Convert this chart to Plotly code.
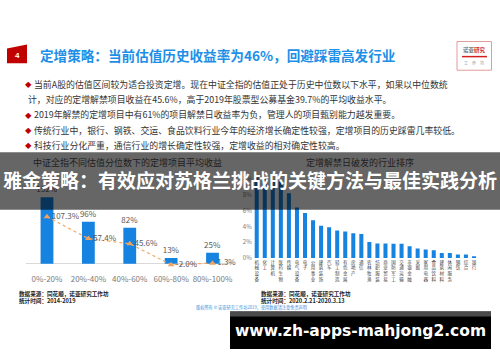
import plotly.graph_objects as go

# ---------------- data ----------------
val_cats = ["0%-20%", "20%-40%", "40%-60%", "60%-80%", "80%-100%"]
avg_return = [152, 96, 82, 13, 25]            # bars, %
unlock_return = [107.3, 57.4, 45.6, -2.0, 1.3]  # line, %

industries = ["机械设备", "化工", "计算机", "医药生物", "传媒", "电气设备", "电子",
              "公用事业", "建筑装饰", "汽车", "轻工制造", "有色金属", "房地产", "通信",
              "农林牧渔", "纺织服装", "商业贸易", "国防军工", "交通运输", "非银金融",
              "采掘", "家用电器", "食品饮料", "建筑材料", "休闲服务", "钢铁", "综合", "银行"]
break_rate = [10.2, 10.0, 9.9, 9.7, 8.2, 6.4, 5.7, 4.8, 4.1, 3.9, 3.5, 3.35, 3.15, 3.05,
              2.05, 1.85, 1.85, 1.8, 1.8, 1.5, 1.2, 1.1, 1.0, 0.65, 0.65, 0.45, 0.45, 0.2]
break_ticks = [0, 2, 4, 6, 8, 10]

title_text = "定增策略：当前估值历史收益率为46%，回避踩雷高发行业"
bullets = [
    ("◆", "当前A股的估值区间较为适合投资定增。现在中证全指的估值正处于历史中位数以下水平，如果以中位数统"),
    ("", "计，对应的定增解禁项目收益在45.6%，高于2019年股票型公募基金39.7%的平均收益水平。"),
    ("◆", "2019年解禁的定增项目中有61%的项目解禁日收益率为负，管理人的项目甄别能力越发重要。"),
    ("◆", "传统行业中，银行、钢铁、交运、食品饮料行业今年的经济增长确定性较强，定增项目的历史踩雷几率较低。"),
    ("◆", "科技行业分化严重，通信行业的增长确定性较强，定增收益的相对确定性较高。"),
]
left_sub = "中证全指不同估值分位数下的定增项目平均收益"
right_sub = "定增解禁日破发的行业排序"
banner = "雅金策略：有效应对苏格兰挑战的关键方法与最佳实践分析"
src_text = "数据来源：同花顺，诺亚研究工作坊"
left_time = "统计时间：2014-2019"
right_time = "统计时间：2020.2.21-2020.3.13"
copyright_text = "版权所有 © 诺亚研究工作坊2019，使用数据请注意免责声明"
site = "www.zh-apps-mahjong2.com"

# ---------------- helpers ----------------
W, H = 500, 362
def px(x): return x / W
def py(y): return 1 - y / H

CJK = "Noto Sans CJK SC, sans-serif"
BLUE = "#1683e0"
GRAY = "#595959"

fig = go.Figure()

# left chart
fig.add_trace(go.Bar(
    x=val_cats, y=avg_return, xaxis="x", yaxis="y", width=0.31,
    marker=dict(color=BLUE, line=dict(width=0)),
    text=[f"{v}%" for v in avg_return], textposition="outside", constraintext="none",
    textfont=dict(size=8, color=GRAY, family=CJK), cliponaxis=False,
    showlegend=False))
fig.add_trace(go.Scatter(
    x=val_cats, y=unlock_return, xaxis="x", yaxis="y",
    mode="lines+markers+text",
    line=dict(color="#f4a762", width=1.2, dash="dot"),
    marker=dict(symbol="triangle-up", size=6, color="#f2a25c"),
    text=[f"{v:.1f}%" for v in unlock_return], textposition="middle right",
    textfont=dict(size=8, color=GRAY, family=CJK), cliponaxis=False,
    showlegend=False))

# right chart
fig.add_trace(go.Bar(
    x=industries, y=break_rate, xaxis="x2", yaxis="y2", width=0.5,
    marker=dict(color=BLUE, line=dict(width=0)), showlegend=False))

zero_y = 266.7
scale = 0.443
r_zero = 261
r_scale = 8.0

fig.update_layout(
    width=W, height=H, margin=dict(l=0, r=0, t=0, b=0),
    paper_bgcolor="white", plot_bgcolor="rgba(0,0,0,0)",
    font=dict(family=CJK),
    xaxis=dict(domain=[px(26.3), px(233.2)], anchor="y", type="category",
               showline=False, showgrid=False, ticks="", tickangle=0,
               tickfont=dict(size=8, color="#7a7a7a", family=CJK)),
    yaxis=dict(domain=[py(276), py(150)],
               range=[-(276 - zero_y) / scale, (zero_y - 150) / scale],
               showticklabels=False, showgrid=False, showline=False,
               zeroline=True, zerolinecolor="#d9d9d9", zerolinewidth=1),
    xaxis2=dict(domain=[px(252.7), px(478)], anchor="y2", type="category",
                showline=False, showgrid=False, ticks="", tickangle=0,
                tickmode="array", tickvals=industries,
                ticktext=["<br>".join(list(n)) for n in industries],
                tickfont=dict(size=4.5, color="#404040", family=CJK)),
    yaxis2=dict(domain=[py(r_zero), py(150)], anchor="x2",
                range=[0, (r_zero - 150) / r_scale],
                tickmode="array", tickvals=break_ticks,
                ticktext=[f"{t}%" for t in break_ticks],
                showgrid=False, zeroline=False, showline=False, ticks="",
                tickfont=dict(size=6, color="#7a7a7a", family=CJK)),
)

shapes = []
annotations = []

def note(x, y, text, size, color, family=CJK, xanchor="center", yanchor="middle"):
    annotations.append(dict(x=px(x), y=py(y), xref="paper", yref="paper",
                            xanchor=xanchor, yanchor=yanchor, text=text,
                            showarrow=False, font=dict(size=size, color=color, family=family)))

# title block
shapes.append(dict(type="path", xref="paper", yref="paper",
                   path=f"M {px(7)},{py(49)} L {px(27)},{py(45)} L {px(27)},{py(64)} L {px(7)},{py(64)} Z",
                   fillcolor="#c00000", line=dict(width=0), layer="above"))
note(17, 56, "<b>4</b>", 8, "white", family="Liberation Sans")
note(38, 56, f"<b>{title_text}</b>", 13.6, "#1e8fe6", xanchor="left")

# logo
shapes.append(dict(type="rect", xref="paper", yref="paper",
                   x0=px(457), x1=px(491.5), y0=py(71), y1=py(42),
                   line=dict(color="#e39a9a", width=1), fillcolor="white"))
shapes.append(dict(type="rect", xref="paper", yref="paper",
                   x0=px(462), x1=px(487), y0=py(58), y1=py(56.5),
                   line=dict(width=0), fillcolor="#d21f1f"))
note(474.3, 50.5, "<b><span style='color:#777'>诺亚</span><span style='color:#d21f1f'>研究</span></b>", 5.5, "#777")
note(474.3, 64, "工　作　坊", 4, "#888")

# bullets
line_y = [85, 100.5, 116, 131.5, 147]
for (mark, txt), yy in zip(bullets, line_y):
    if mark:
        note(28.2, yy, mark, 6.5, "#c00000")
        note(31.5, yy, txt, 8.9, "#333333", xanchor="left")
    else:
        note(26.3, yy, txt, 8.9, "#333333", xanchor="left")

# subtitles (sit under the dark band)
note(127, 164, left_sub, 9, "#1e1e1e")
note(360, 164, right_sub, 9, "#1e1e1e")

# dark band
shapes.append(dict(type="rect", xref="paper", yref="paper",
                   x0=0, x1=1, y0=py(212), y1=py(154),
                   fillcolor="rgba(0,0,0,0.6)", line=dict(width=0), layer="above"))
note(249.5, 182, f"<b>{banner}</b>", 19, "white")

# footers
for xx, t2 in [(17, left_time), (259, right_time)]:
    note(xx, 297, f"<b>{src_text}</b>", 5.6, "#222", xanchor="left")
    note(xx, 304, f"<b>{t2}</b>", 5.6, "#222", xanchor="left")
note(251, 310.5, copyright_text, 4.2, "#3b8fd9")

# website box
shapes.append(dict(type="rect", xref="paper", yref="paper",
                   x0=px(230), x1=px(491), y0=py(353), y1=py(315),
                   fillcolor="black", line=dict(width=0), layer="above"))
shapes.append(dict(type="rect", xref="paper", yref="paper",
                   x0=px(230), x1=px(491), y0=py(320), y1=py(315),
                   fillcolor="#4a4a4a", line=dict(width=0), layer="above"))
note(360, 335, f"<b>{site}</b>", 15.5, "white", family="DejaVu Sans")

fig.update_layout(shapes=shapes, annotations=annotations)
fig.write_html("out.html")
